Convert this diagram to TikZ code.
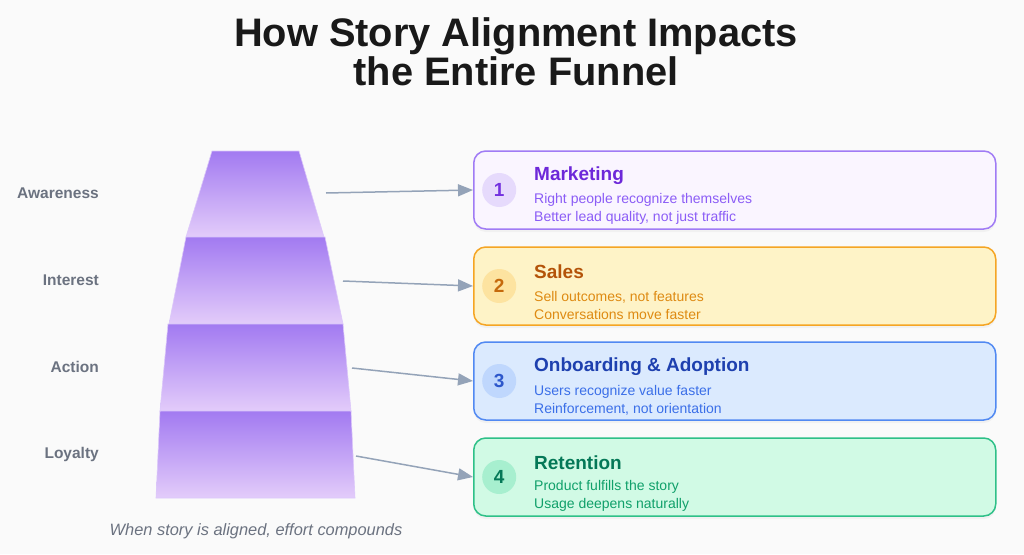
\documentclass[tikz,border=0pt]{standalone}
\usepackage{fontspec}
\setmainfont{Liberation Sans}
\usepackage{tikz}
\usetikzlibrary{arrows.meta, positioning, calc, shadows}

\definecolor{bgpage}{HTML}{FAFAFA}
\definecolor{labelgray}{HTML}{6B7280}
\definecolor{linkgray}{HTML}{94A3B8}
\definecolor{funtop}{HTML}{A27AF1}
\definecolor{funmid}{HTML}{C08FF5}
\definecolor{funbot}{HTML}{E3CCFA}
\definecolor{funedge}{HTML}{DCC8FA}
% card colours: border, fill, title, text, disc
\definecolor{mkborder}{HTML}{A07BF5}
\definecolor{mkfill}{HTML}{FAF5FF}
\definecolor{mktitle}{HTML}{6D28D9}
\definecolor{mktext}{HTML}{8B5CF6}
\definecolor{mkdisc}{HTML}{E6DAFC}
\definecolor{slborder}{HTML}{F5A524}
\definecolor{slfill}{HTML}{FEF3C7}
\definecolor{sltitle}{HTML}{B45309}
\definecolor{sltext}{HTML}{DE8A12}
\definecolor{sldisc}{HTML}{FDE3A0}
\definecolor{obborder}{HTML}{5189F2}
\definecolor{obfill}{HTML}{DBEAFE}
\definecolor{obtitle}{HTML}{1E40AF}
\definecolor{obtext}{HTML}{3B6FE8}
\definecolor{obdisc}{HTML}{BFD7FD}
\definecolor{rtborder}{HTML}{2EC088}
\definecolor{rtfill}{HTML}{D1FAE5}
\definecolor{rttitle}{HTML}{047857}
\definecolor{rttext}{HTML}{10A06A}
\definecolor{rtdisc}{HTML}{A7EFCF}

\begin{document}
\begin{tikzpicture}[
    x=1pt, y=-1pt,
    card/.style={rectangle, rounded corners=12pt, minimum width=522pt, minimum height=78pt, line width=1.5pt, anchor=west,
        drop shadow={opacity=0.07, shadow xshift=0pt, shadow yshift=-3pt}},
    num/.style={circle, minimum size=34pt, inner sep=0pt, font=\fontsize{19}{22}\selectfont\bfseries},
    head/.style={anchor=west, inner sep=0pt, font=\fontsize{19}{22}\selectfont\bfseries},
    sub/.style={anchor=west, inner sep=0pt, align=left, font=\fontsize{14}{18}\selectfont},
    stage/.style={anchor=east, inner sep=0pt, text=labelgray, font=\fontsize{15.5}{18}\selectfont\bfseries},
    layer/.style={top color=funtop, middle color=funmid, bottom color=funbot, draw=funedge, line width=0.6pt},
    link/.style={draw=linkgray, line width=1.5pt, -{Triangle[length=15pt, width=12pt]}}
]

    \fill[bgpage] (0,0) rectangle (1024,554);
    \useasboundingbox (0,0) rectangle (1024,554);

    \node[align=center, font=\fontsize{39.8}{39.5}\selectfont\bfseries, text=black!90] (title) at (516,52)
        {How Story Alignment Impacts\\the Entire Funnel};

    % funnel
    \path[layer] (212,151) -- (299,151) -- (324,237) -- (186,237) -- cycle;
    \path[layer] (186,237) -- (325,237) -- (343,324) -- (169,324) -- cycle;
    \path[layer] (168,324) -- (343,324) -- (351,411) -- (160,411) -- cycle;
    \path[layer] (160,411) -- (351,411) -- (355,498) -- (156,498) -- cycle;

    \node[stage] (awareness) at (99,193) {Awareness};
    \node[stage] (interest) at (99,280) {Interest};
    \node[stage] (action) at (99,367) {Action};
    \node[stage] (loyalty) at (99,454) {Loyalty};

    \coordinate (from1) at (326,193);
    \coordinate (from2) at (343,281);
    \coordinate (from3) at (352,368);
    \coordinate (from4) at (356,456);

    \node[font=\fontsize{16.4}{19}\selectfont\itshape, text=labelgray] (caption) at (256,531)
        {When story is aligned, effort compounds};

    % cards
    \node[card, draw=mkborder, fill=mkfill] (marketing) at (473,190) {};
    \node[num, fill=mkdisc, text=mktitle!80!mktext, right=9pt of marketing.west] (n1) {1};
    \node[head, text=mktitle] (marketingT) at ($(marketing.west)+(61,-14)$) {Marketing};
    \node[sub, text=mktext] (marketingS) at ($(marketing.west)+(61,19)$)
        {Right people recognize themselves\\Better lead quality, not just traffic};

    \node[card, draw=slborder, fill=slfill] (sales) at (473,286) {};
    \node[num, fill=sldisc, text=sltitle!60!sltext, right=9pt of sales.west] (n2) {2};
    \node[head, text=sltitle] (salesT) at ($(sales.west)+(61,-14)$) {Sales};
    \node[sub, text=sltext] (salesS) at ($(sales.west)+(61,19)$)
        {Sell outcomes, not features\\Conversations move faster};

    \node[card, draw=obborder, fill=obfill] (onboarding) at (473,381) {};
    \node[num, fill=obdisc, text=obtext!50!obtitle, right=9pt of onboarding.west] (n3) {3};
    \node[head, text=obtitle] (onboardingT) at ($(onboarding.west)+(61,-14)$) {Onboarding \& Adoption};
    \node[sub, text=obtext] (onboardingS) at ($(onboarding.west)+(61,19)$)
        {Users recognize value faster\\Reinforcement, not orientation};

    \node[card, draw=rtborder, fill=rtfill] (retention) at (473,477) {};
    \node[num, fill=rtdisc, text=rttitle, right=9pt of retention.west] (n4) {4};
    \node[head, text=rttitle] (retentionT) at ($(retention.west)+(61,-14)$) {Retention};
    \node[sub, text=rttext] (retentionS) at ($(retention.west)+(61,19)$)
        {Product fulfills the story\\Usage deepens naturally};

    \draw[link] (from1) -- (marketing.west);
    \draw[link] (from2) -- (sales.west);
    \draw[link] (from3) -- (onboarding.west);
    \draw[link] (from4) -- (retention.west);

\end{tikzpicture}
\end{document}
